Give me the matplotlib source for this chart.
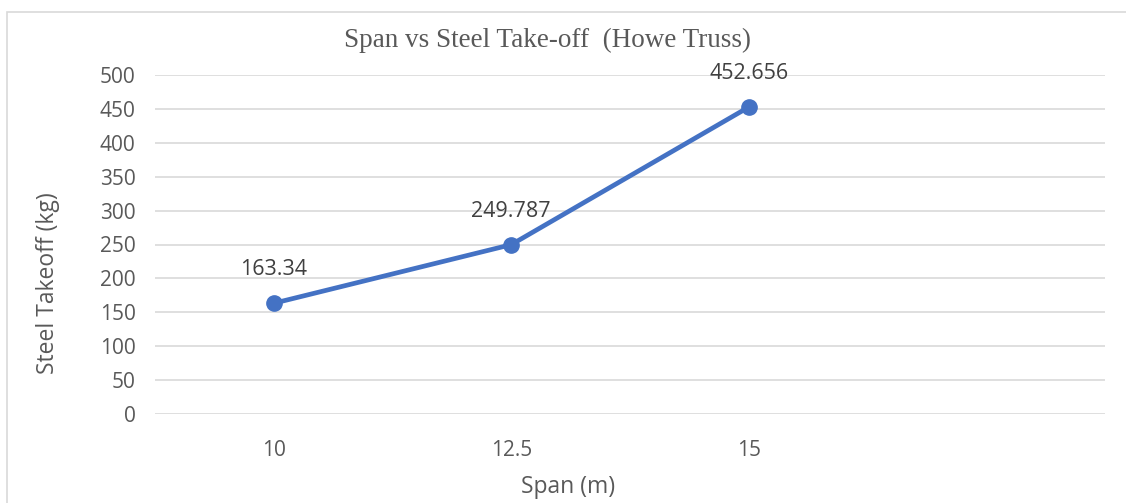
import matplotlib
matplotlib.use("Agg")
import matplotlib.pyplot as plt
from matplotlib.patches import Rectangle

spans = ["10", "12.5", "15"]
steel = [163.34, 249.787, 452.656]
labels = ["163.34", "249.787", "452.656"]
yticks = [0, 50, 100, 150, 200, 250, 300, 350, 400, 450, 500]

fig = plt.figure(figsize=(11.26, 5.03), dpi=100)
fig.patch.set_facecolor("white")
# outer chart border
fig.patches.append(Rectangle((7/1126, -0.05), 1.2, 1 - 12/503 + 0.05, transform=fig.transFigure,
                             fill=False, edgecolor="#d9d9d9", linewidth=1.2))

ax = fig.add_axes([155/1126, 89/503, 950/1126, 339/503])
x = list(range(len(spans)))
ax.plot(x, steel, color="#4472C4", linewidth=3.4, marker="o", markersize=11, solid_capstyle="round")
for xi, yi, lab in zip(x, steel, labels):
    ax.annotate(lab, (xi, yi), xytext=(0, 24), textcoords="offset points", ha="center",
                va="center", fontsize=15.5, color="#404040", family="Open Sans")

ax.set_xlim(-0.5, 3.5)
ax.set_ylim(0, 500)
ax.set_yticks(yticks)
ax.set_xticks(x)
ax.set_xticklabels(spans)
ax.grid(axis="y", color="#d9d9d9", linewidth=1.2)
ax.set_axisbelow(True)
for s in ax.spines.values():
    s.set_visible(False)
ax.tick_params(length=0, labelsize=15, labelcolor="#595959")
ax.tick_params(axis="y", pad=14)
ax.tick_params(axis="x", pad=19)
for t in ax.get_xticklabels() + ax.get_yticklabels():
    t.set_family("Open Sans")

ax.set_xlabel("Span (m)", fontsize=16.5, color="#595959", family="Open Sans", va="center")
ax.xaxis.set_label_coords((568 - 155) / 950, (414 - 487) / 339)
ax.set_ylabel("Steel Takeoff (kg)", fontsize=16.5, color="#595959", family="Open Sans", va="center")
ax.yaxis.set_label_coords((48 - 155) / 950, (414 - 283) / 339)
fig.text(547/1126, 1 - 40/503, "Span vs Steel Take-off  (Howe Truss)", ha="center", va="center",
         fontsize=19.5, color="#595959", family="Liberation Serif")

fig.savefig("out.png", dpi=100)
